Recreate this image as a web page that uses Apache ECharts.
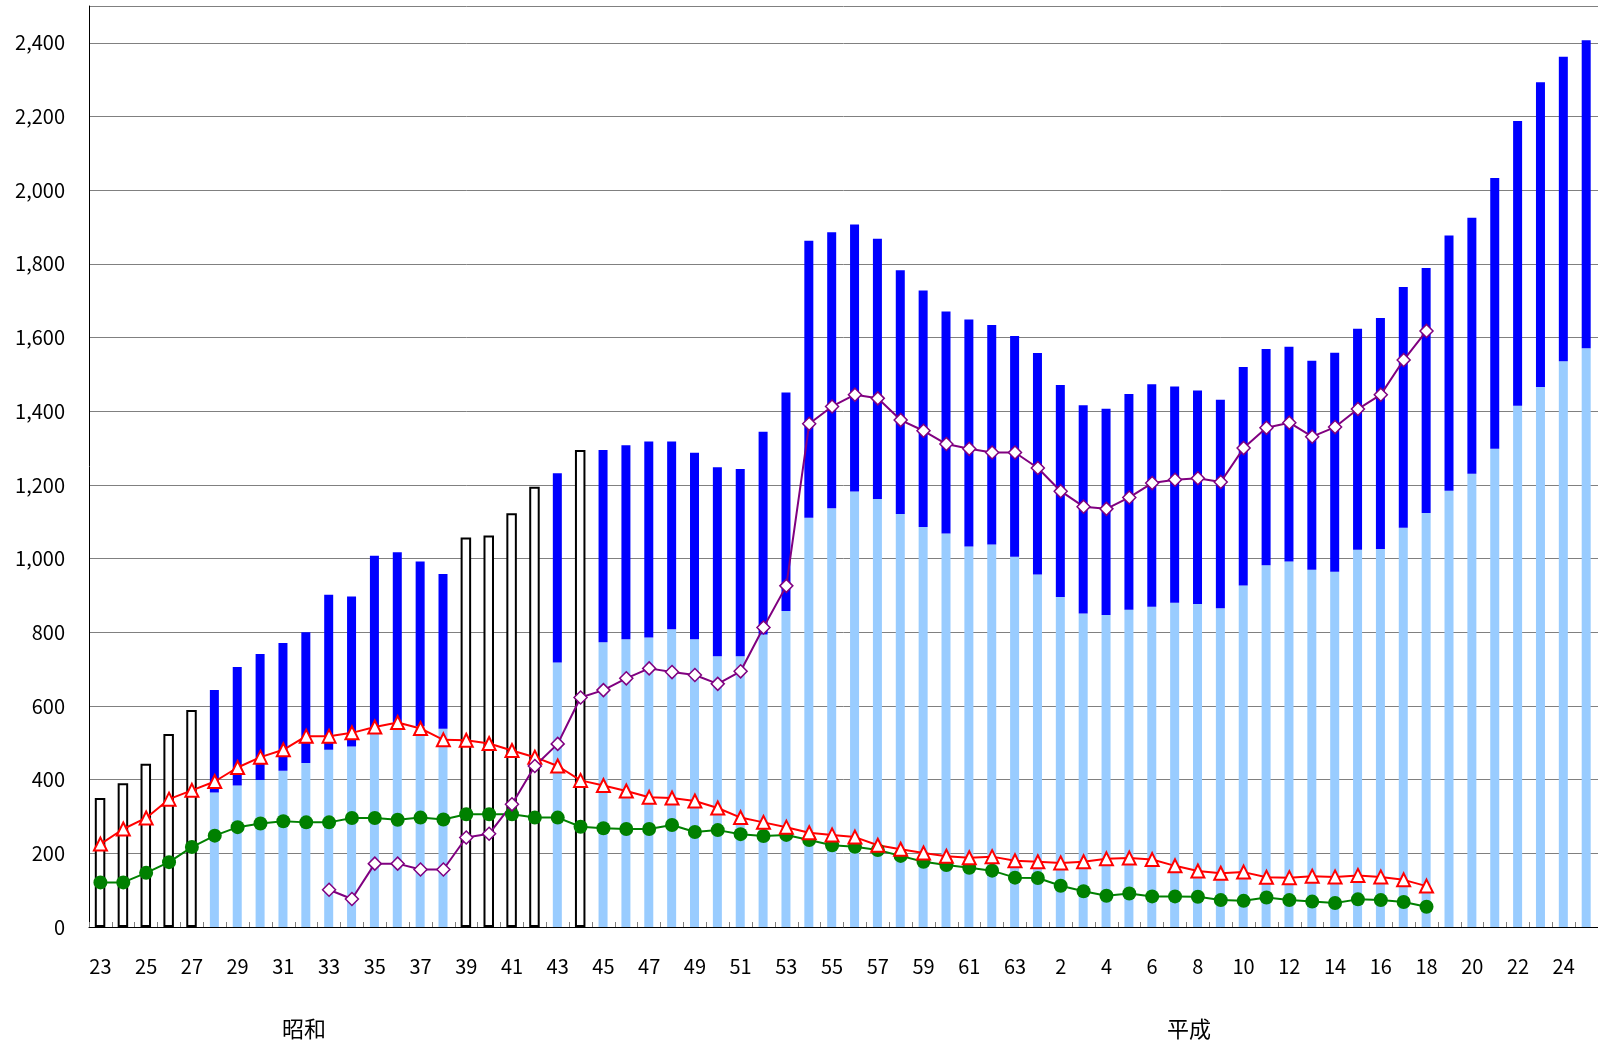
<!DOCTYPE html>
<html>
<head>
<meta charset="utf-8">
<script src="https://cdn.jsdelivr.net/npm/echarts@6/dist/echarts.min.js"></script>
<style>
html,body{margin:0;padding:0;background:#fff;}
#main{width:1598px;height:1044px;}
</style>
</head>
<body>
<div id="main"></div>
<script>
// 年次（昭和23年〜平成25年）
var years = ['23','24','25','26','27','28','29','30','31','32','33','34','35','36','37','38','39','40','41','42',
    '43','44','45','46','47','48','49','50','51','52','53','54','55','56','57','58','59','60','61','62','63',
    '1','2','3','4','5','6','7','8','9','10','11','12','13','14','15','16','17','18','19','20','21','22','23','24','25'];

// 棒の全体の高さ
var totals = [350,390,443,524,589,643,706,741,771,800,902,897,1008,1017,992,958,1057,1063,1123,1195,
    1232,1295,1295,1308,1318,1318,1287,1248,1243,1344,1451,1863,1886,1907,1868,1783,1728,1671,1649,1634,1604,
    1558,1471,1416,1407,1447,1473,1467,1456,1431,1520,1569,1575,1537,1559,1624,1653,1737,1789,1877,1925,2033,2188,2293,2362,2407];

// 棒の下側（水色）部分、null は内訳なし（白抜き）
var lowerPart = [null,null,null,null,null,365,384,399,424,445,481,490,526,540,545,538,null,null,null,null,
    718,null,773,781,786,808,781,735,735,794,858,1111,1137,1182,1162,1121,1086,1068,1033,1038,1005,
    957,896,851,847,861,869,880,877,865,927,982,992,970,964,1024,1026,1084,1124,1184,1230,1298,1415,1466,1536,1571];

// 緑（●）
var greenLine = [121,121,147,176,217,248,271,281,287,284,284,296,296,291,297,292,306,306,306,297,
    297,272,268,266,266,277,258,263,252,247,250,236,222,218,209,193,177,168,161,153,134,
    133,112,97,85,91,83,83,82,73,71,80,73,69,65,75,73,68,55,null,null,null,null,null,null,null];

// 赤（△）
var redLine = [225,266,296,347,371,395,433,461,481,518,518,527,543,555,539,508,507,498,479,461,
    437,398,384,369,352,350,342,323,297,284,271,256,250,244,222,211,201,192,188,191,180,
    177,174,177,185,187,183,166,152,146,149,135,134,138,136,140,136,128,111,null,null,null,null,null,null,null];

// 紫（◇）
var purpleLine = [null,null,null,null,null,null,null,null,null,null,101,76,172,172,156,156,243,253,333,437,
    497,623,643,675,702,692,684,660,694,813,926,1366,1413,1445,1435,1376,1347,1311,1298,1288,1288,
    1246,1183,1141,1135,1166,1205,1214,1218,1208,1300,1355,1369,1331,1357,1406,1445,1539,1618,null,null,null,null,null,null,null];

var FONT = 'Noto Sans CJK JP';

// 水色・青の積み上げと白抜き棒に分ける
function buildBars() {
    var light = [], dark = [], hollow = [];
    for (var i = 0; i < totals.length; i++) {
        if (lowerPart[i] == null) {
            light.push('-');
            dark.push('-');
            hollow.push(totals[i]);
        } else {
            light.push(lowerPart[i]);
            dark.push(totals[i] - lowerPart[i]);
            hollow.push('-');
        }
    }
    return {light: light, dark: dark, hollow: hollow};
}

var bars = buildBars();
var GAP = '-108.33%'; // 幅の違う棒を同じ中心に重ねる

var option = {
    animation: false,
    backgroundColor: '#fff',
    grid: {left: 89, right: -4, top: 6, bottom: 117, containLabel: false},
    xAxis: {
        type: 'category',
        data: years,
        boundaryGap: true,
        axisLine: {lineStyle: {color: '#000', width: 1}},
        axisTick: {show: true, inside: true, length: 5, interval: 0, lineStyle: {color: '#808080'}},
        axisLabel: {interval: 1, margin: 29, color: '#000', fontSize: 20, fontFamily: FONT},
        splitLine: {show: false}
    },
    yAxis: {
        type: 'value',
        min: 0,
        max: 2500,
        interval: 200,
        axisLine: {show: true, lineStyle: {color: '#000', width: 1}},
        axisTick: {show: false},
        axisLabel: {
            margin: 24, color: '#000', fontSize: 20, fontFamily: FONT, showMaxLabel: false,
            formatter: function (v) { return v === 2500 ? '' : v.toLocaleString('en-US'); }
        },
        splitLine: {show: true, lineStyle: {color: '#808080', width: 1}}
    },
    series: [
        {type: 'bar', stack: 'a', barWidth: 9, barGap: GAP, data: bars.light, itemStyle: {color: '#99CCFF'}},
        {type: 'bar', stack: 'a', barWidth: 9, barGap: GAP, data: bars.dark, itemStyle: {color: '#0000FF'}},
        {type: 'bar', stack: 'b', barWidth: 10.5, barGap: GAP, data: bars.hollow,
            itemStyle: {color: '#fff', borderColor: '#000', borderWidth: 2}},
        {type: 'line', data: greenLine, symbol: 'circle', symbolSize: 14,
            lineStyle: {color: '#008000', width: 2}, itemStyle: {color: '#008000'}},
        {type: 'line', data: redLine, symbol: 'triangle', symbolSize: 13,
            lineStyle: {color: '#FF0000', width: 2}, itemStyle: {color: '#fff', borderColor: '#FF0000', borderWidth: 2}},
        {type: 'line', data: purpleLine, symbol: 'diamond', symbolSize: [13, 13],
            lineStyle: {color: '#800080', width: 2}, itemStyle: {color: '#fff', borderColor: '#800080', borderWidth: 1.5}}
    ],
    graphic: [
        {type: 'text', left: 282, top: 1018, style: {text: '昭和', font: '22px "Noto Sans CJK JP"', fill: '#000'}},
        {type: 'text', left: 1167, top: 1018, style: {text: '平成', font: '22px "Noto Sans CJK JP"', fill: '#000'}}
    ]
};

var myChart = echarts.init(document.getElementById('main'));
myChart.setOption(option);
</script>
</body>
</html>
